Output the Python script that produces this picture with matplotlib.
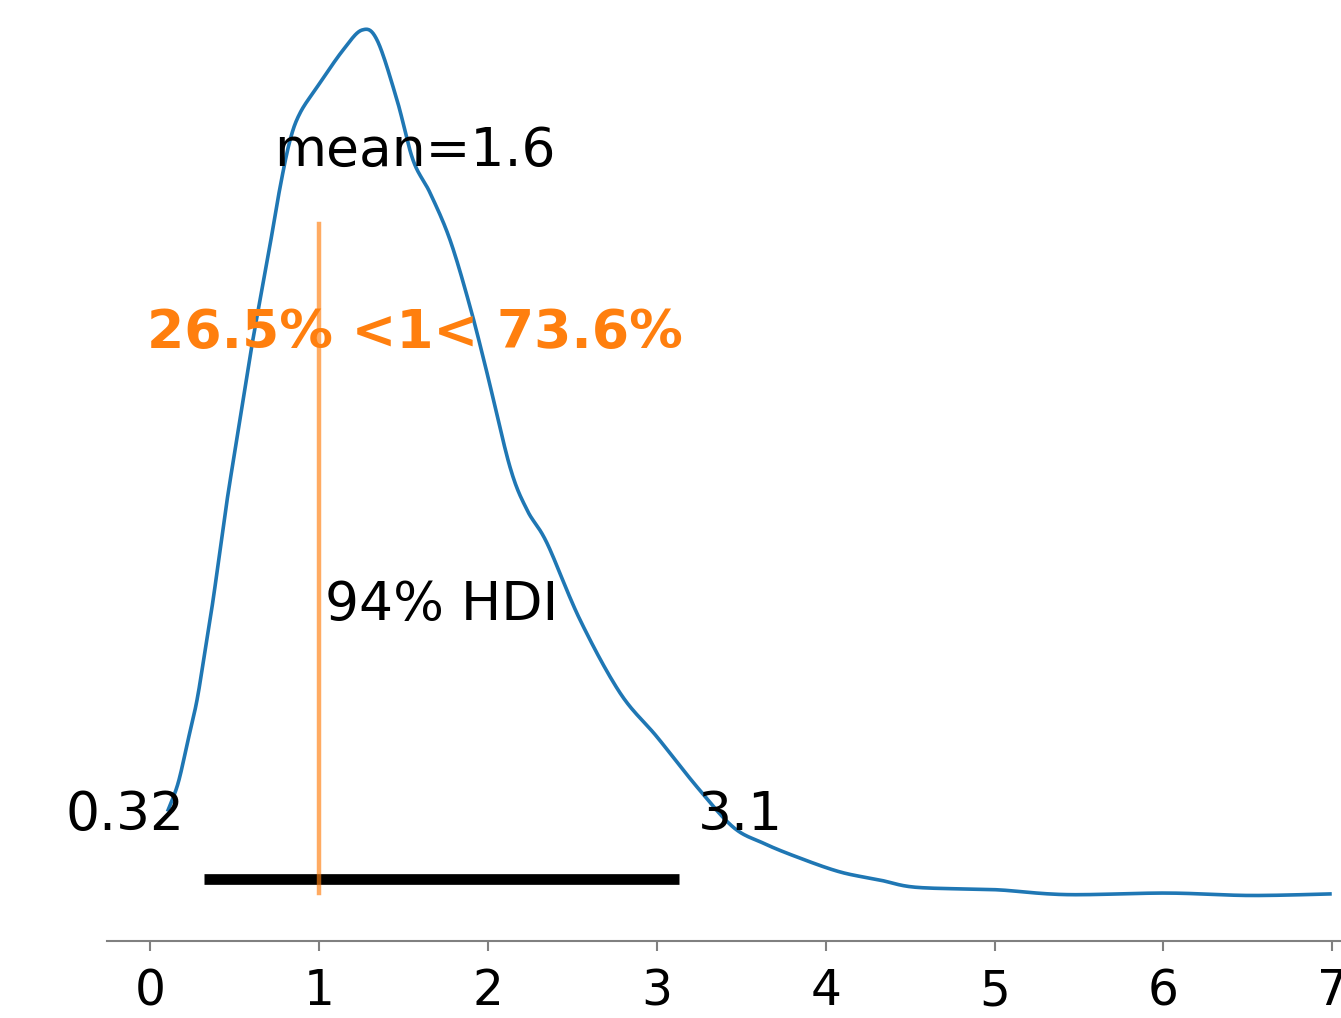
import numpy as np
import matplotlib
matplotlib.use("Agg")
import matplotlib.pyplot as plt

# posterior density
x_kde = [0.107, 0.166, 0.225, 0.278, 0.326, 0.373, 0.414, 0.456, 0.503, 0.551, 0.598, 0.651,
         0.705, 0.770, 0.829, 0.888, 0.989, 1.143, 1.255, 1.344, 1.462, 1.557, 1.658, 1.776,
         1.895, 1.995, 2.131, 2.232, 2.350, 2.546, 2.783, 3.002, 3.239, 3.452,
         3.629, 3.831, 4.085, 4.322, 4.517, 4.837, 5.033, 5.429, 6.021, 6.513, 6.986]
y_kde = [0.0497, 0.0652, 0.0901, 0.1132, 0.1420, 0.1709, 0.1998, 0.2286, 0.2575, 0.2864, 0.3152, 0.3441,
         0.3730, 0.4094, 0.4365, 0.4521, 0.4671, 0.4885, 0.5000, 0.4942, 0.4596, 0.4249, 0.4059, 0.3788,
         0.3401, 0.3020, 0.2477, 0.2229, 0.2038, 0.1594, 0.1172, 0.0918, 0.0629, 0.0398,
         0.0306, 0.0225, 0.0139, 0.0092, 0.0052, 0.0040, 0.0035, 0.0008, 0.0017, 0.0003, 0.0012]

mean_val = 1.57
mean_label = "mean=1.6"
ref_val = 1
ref_label = "26.5% <1< 73.6%"
hdi = [0.32, 3.13]
hdi_labels = ["0.32", "3.1"]
hdi_text = "94% HDI"
xticks = [0, 1, 2, 3, 4, 5, 6, 7]


def catmull(xp, yp, n=20):
    # smooth curve through the read-off points
    p = np.column_stack([xp, yp])
    p = np.vstack([p[0], p, p[-1]])
    out = []
    t = np.linspace(0, 1, n, endpoint=False)[:, None]
    for i in range(1, len(p) - 2):
        p0, p1, p2, p3 = p[i - 1], p[i], p[i + 1], p[i + 2]
        out.append(0.5 * (2 * p1 + (-p0 + p2) * t + (2 * p0 - 5 * p1 + 4 * p2 - p3) * t ** 2
                          + (-p0 + 3 * p1 - 3 * p2 + p3) * t ** 3))
    out.append(p[-2][None, :])
    out = np.vstack(out)
    return out[:, 0], out[:, 1]


fig = plt.figure(figsize=(13.41, 10.18), dpi=100)
ax = fig.add_axes([0.0798, 0.0756, 0.9515, 0.9388])

xs, ys = catmull(x_kde, y_kde)
ax.plot(xs, ys, color="C0", lw=2.6)

ph = max(y_kde)
ax.plot(hdi, [ph * 0.02, ph * 0.02], color="k", lw=7.7, solid_capstyle="butt")
ax.axvline(ref_val, ymin=0.05, ymax=0.75, color="C1", alpha=0.65, lw=3.2)

fs = 38.5
ax.text(mean_val, ph * 0.86, mean_label, ha="center", va="center", fontsize=fs)
ax.text(mean_val, ph * 0.65, ref_label, ha="center", va="center", fontsize=fs,
        color="C1", weight="bold")
ax.text(np.mean(hdi), ph * 0.336, hdi_text, ha="center", va="center", fontsize=fs)
ax.annotate(hdi_labels[0], (hdi[0], ph * 0.094), xytext=(-14, 0), textcoords="offset points",
            ha="right", va="center", fontsize=fs)
ax.annotate(hdi_labels[1], (hdi[1], ph * 0.094), xytext=(14, 0), textcoords="offset points",
            ha="left", va="center", fontsize=fs)

ax.set_xlim(-0.255, 7.3)
ax.set_ylim(-0.026, 0.5258)
ax.set_xticks(xticks)
ax.tick_params(axis="x", labelsize=35, length=7, width=1.5, color="gray", pad=12)
ax.set_yticks([])
for s in ["left", "right", "top"]:
    ax.spines[s].set_visible(False)
ax.spines["bottom"].set_color("gray")
ax.spines["bottom"].set_linewidth(1.5)

fig.savefig("out.png", dpi=100)
